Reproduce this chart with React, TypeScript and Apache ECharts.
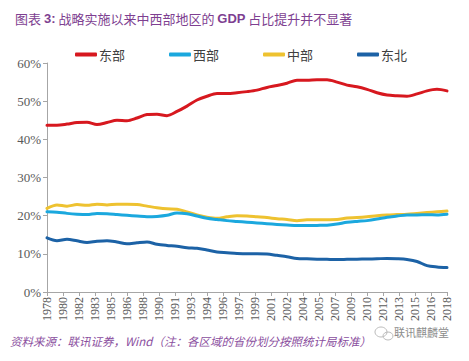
import React, { useEffect, useRef } from "react";
import * as echarts from "echarts";

const years: number[] = [];
for (let y = 1978; y <= 2018; y++) years.push(y);

const tickLabels = ["1978","1980","1982","1983","1985","1986","1988","1990","1991","1993","1994","1996","1997","1999","2001","2002","2004","2005","2007","2009","2010","2012","2013","2015","2016","2018"];

const east = [43.7,43.7,44.0,44.4,44.5,43.9,44.4,45.0,44.9,45.6,46.5,46.6,46.2,47.3,48.7,50.3,51.3,52.0,52.0,52.2,52.5,52.9,53.6,54.1,54.7,55.5,55.5,55.6,55.6,55.0,54.2,53.8,53.1,52.2,51.6,51.4,51.3,51.9,52.7,53.1,52.7];
const west = [21.0,20.9,20.6,20.4,20.3,20.6,20.5,20.3,20.1,19.9,19.7,19.8,20.1,20.7,20.5,19.9,19.3,19.0,18.7,18.5,18.3,18.1,17.9,17.7,17.55,17.4,17.4,17.45,17.5,17.8,18.25,18.5,18.7,19.1,19.6,19.9,20.2,20.2,20.25,20.2,20.4];
const central = [21.9,22.8,22.5,22.9,22.7,23.0,22.8,23.0,23.0,22.9,22.5,22.1,21.8,21.7,21.0,20.2,19.6,19.3,19.7,20.0,19.9,19.7,19.5,19.2,19.0,18.7,18.9,18.9,18.95,19.0,19.4,19.5,19.7,20.0,20.2,20.3,20.4,20.6,20.8,21.0,21.2];
const northeast = [14.2,13.45,13.8,13.4,13.0,13.3,13.45,13.1,12.65,12.9,13.1,12.5,12.2,12.0,11.6,11.45,11.0,10.5,10.3,10.1,10.0,10.0,9.95,9.6,9.25,8.8,8.7,8.6,8.55,8.5,8.55,8.6,8.65,8.7,8.8,8.7,8.5,8.0,6.9,6.55,6.4];

const seriesNames = ["东部", "西部", "中部", "东北"];
const seriesColors = ["#D7181F", "#1BA8DE", "#EEC230", "#1C62A6"];

const toPairs = (arr: number[]) => arr.map((v, i) => [years[i] - years[0], v]);

export default function App() {
  const ref = useRef<HTMLDivElement>(null);
  useEffect(() => {
    if (!ref.current) return;
    const chart = echarts.init(ref.current, null, { renderer: "svg" });
    const data = [east, west, central, northeast];
    const sans = "'Noto Sans CJK SC', 'Noto Sans', sans-serif";
    const serif = "'Liberation Serif', 'DejaVu Serif', serif";
    chart.setOption({
      animation: false,
      backgroundColor: "#ffffff",
      title: {
        left: 10,
        top: 7,
        text: "{a|图表 }{b|3:}{a| 战略实施以来中西部地区的 }{b|GDP}{a| 占比提升并不显著}",
        textStyle: {
          fontWeight: "normal",
          rich: {
            a: { fontSize: 13, color: "#7E3F91", fontFamily: sans, fontWeight: "normal" },
            b: { fontSize: 13, color: "#7E3F91", fontFamily: "'Liberation Sans', Arial, sans-serif", fontWeight: "bold" },
          },
        },
      },
      legend: {
        left: 70,
        top: 43,
        itemWidth: 22,
        itemHeight: 4,
        itemGap: 44,
        icon: "roundRect",
        textStyle: { fontSize: 13, color: "#404040", fontFamily: sans, padding: [0, 0, 0, -3] },
        data: seriesNames,
      },
      grid: { left: 47, right: 22, top: 63, bottom: 69, containLabel: false },
      xAxis: {
        type: "value",
        min: 0,
        max: years.length - 1,
        interval: 1.6,
        axisLine: { show: true, lineStyle: { color: "#A6A6A6", width: 1 } },
        axisTick: { show: true, length: 4, lineStyle: { color: "#A6A6A6" } },
        splitLine: { show: false },
        axisLabel: {
          rotate: 90,
          margin: 5,
          fontSize: 12,
          color: "#595959",
          fontFamily: serif,
          formatter: (v: number) => tickLabels[Math.round(v / 1.6)] ?? "",
        },
      },
      yAxis: {
        type: "value",
        min: 0,
        max: 60,
        interval: 10,
        axisLine: { show: true, lineStyle: { color: "#A6A6A6", width: 1 } },
        axisTick: { show: true, length: 4, lineStyle: { color: "#A6A6A6" } },
        splitLine: { show: false },
        axisLabel: {
          margin: 6,
          fontSize: 13,
          color: "#595959",
          fontFamily: serif,
          formatter: "{value}%",
        },
      },
      series: data.map((arr, i) => ({
        name: seriesNames[i],
        type: "line",
        data: toPairs(arr),
        symbol: "none",
        smooth: 0.3,
        lineStyle: { width: 3, color: seriesColors[i], cap: "round", join: "round" },
        itemStyle: { color: seriesColors[i] },
        z: 10 - i,
      })),
      graphic: [
        {
          type: "text",
          left: 10,
          top: 335,
          style: {
            text: "资料来源：联讯证券，Wind（注：各区域的省份划分按照统计局标准）",
            fontSize: 11.5,
            fontStyle: "italic",
            fontWeight: "normal",
            fontFamily: sans,
            fill: "#8A4E9E",
          },
        },
        {
          type: "ellipse",
          shape: { cx: 381, cy: 332, rx: 6, ry: 5 },
          style: { fill: "none", stroke: "#BBBBBB", lineWidth: 1 },
        },
        {
          type: "ellipse",
          shape: { cx: 388, cy: 336, rx: 5, ry: 4 },
          style: { fill: "none", stroke: "#BBBBBB", lineWidth: 1 },
        },
        {
          type: "text",
          left: 394,
          top: 326,
          style: {
            text: "联讯麒麟堂",
            fontSize: 11,
            fontFamily: sans,
            fill: "#8C8C8C",
          },
        },
      ],
    });
    return () => chart.dispose();
  }, []);
  return <div ref={ref} style={{ width: 469, height: 361, margin: -8 }} />;
}
